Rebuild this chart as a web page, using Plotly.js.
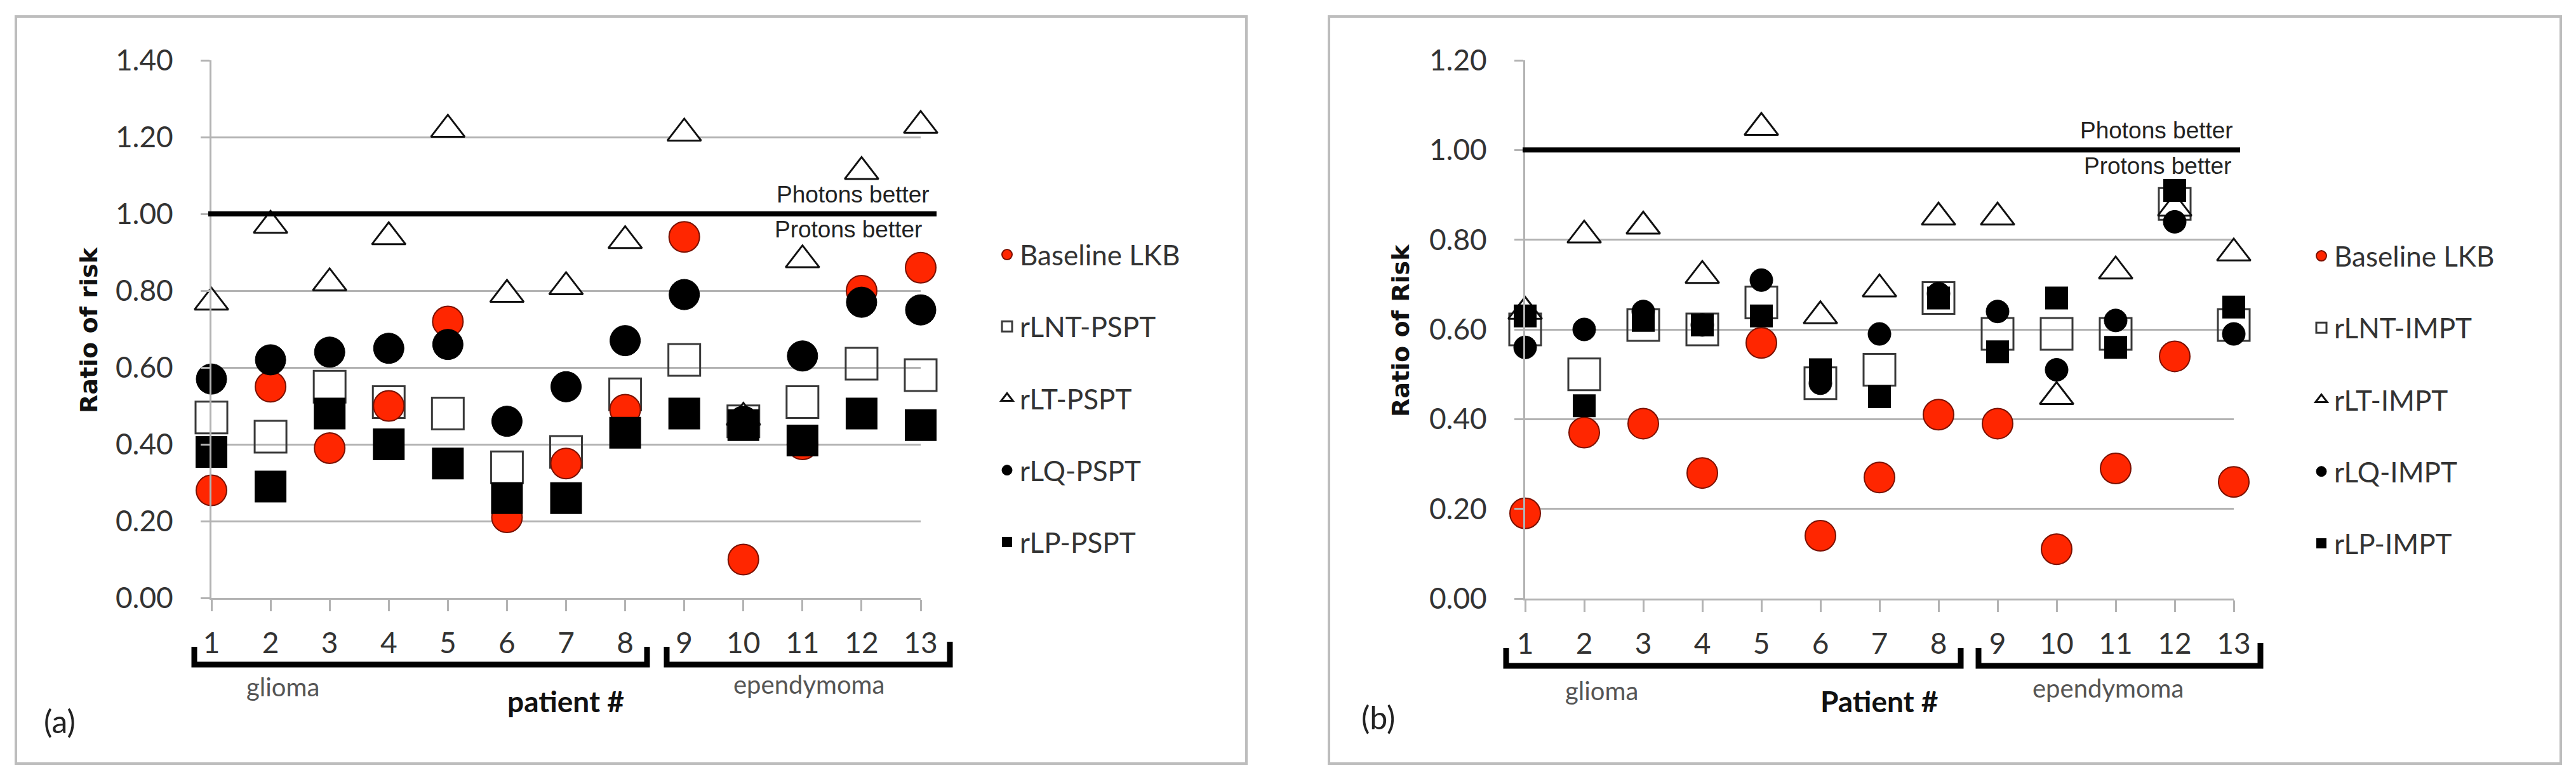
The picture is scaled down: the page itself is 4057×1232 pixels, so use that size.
<!DOCTYPE html>
<html><head><meta charset="utf-8">
<script src="https://cdn.plot.ly/plotly-3.0.1.min.js"></script>
<style>html,body{margin:0;padding:0;background:#fff;}#chart{width:4057px;height:1232px;}</style>
</head><body><div id="chart"></div>
<script>
// ---------------- data ----------------
const patients = [1,2,3,4,5,6,7,8,9,10,11,12,13];
const patientLabels = ['1','2','3','4','5','6','7','8','9','10','11','12','13'];

// panel (a) PSPT
const namesA = ['Baseline LKB','rLNT-PSPT','rLT-PSPT','rLQ-PSPT','rLP-PSPT'];
const baselineA = [0.28,0.55,0.39,0.50,0.72,0.21,0.35,0.49,0.94,0.10,0.40,0.80,0.86];
const rLNT_PSPT = [0.47,0.42,0.55,0.51,0.48,0.34,0.38,0.53,0.62,0.46,0.51,0.61,0.58];
const rLT_PSPT  = [0.77,0.97,0.82,0.94,1.22,0.79,0.81,0.93,1.21,0.47,0.88,1.11,1.23];
const rLQ_PSPT  = [0.57,0.62,0.64,0.65,0.66,0.46,0.55,0.67,0.79,0.46,0.63,0.77,0.75];
const rLP_PSPT  = [0.38,0.29,0.48,0.40,0.35,0.26,0.26,0.43,0.48,0.45,0.41,0.48,0.45];

// panel (b) IMPT
const namesB = ['Baseline LKB','rLNT-IMPT','rLT-IMPT','rLQ-IMPT','rLP-IMPT'];
const baselineB = [0.19,0.37,0.39,0.28,0.57,0.14,0.27,0.41,0.39,0.11,0.29,0.54,0.26];
const rLNT_IMPT = [0.60,0.50,0.61,0.60,0.66,0.48,0.51,0.67,0.59,0.59,0.59,0.88,0.61];
const rLT_IMPT  = [0.64,0.81,0.83,0.72,1.05,0.63,0.69,0.85,0.85,0.45,0.73,0.87,0.77];
const rLQ_IMPT  = [0.56,0.60,0.64,0.61,0.71,0.48,0.59,0.68,0.64,0.51,0.62,0.84,0.59];
const rLP_IMPT  = [0.63,0.43,0.62,0.61,0.63,0.51,0.45,0.67,0.55,0.67,0.56,0.91,0.65];

const refLine = 1.0;
const groupLabels = ['glioma','ependymoma'];
const xTitles = ['patient #','Patient #'];
const yTitles = ['Ratio of risk','Ratio of Risk'];
const betterLabels = ['Photons better','Protons better'];
const panelLabels = ['(a)','(b)'];

// ---------------- layout helpers ----------------
const W = 4057, H = 1232;
const px = v => v / W;
const py = v => 1 - v / H;

const RED = '#ff2600';
function styles(small){
  return [
    {symbol:'circle', size:48, color:RED, line:{color:'#7a1000', width:2}},
    {symbol:'square-open', size:50, color:'#3a3a3a', line:{color:'#3a3a3a', width:3}},
    {symbol:'triangle-up', size:46, color:'#ffffff', line:{color:'#111111', width:3}},
    {symbol:'circle', size: small ? 36 : 48, color:'#000000', line:{color:'#000000', width:1}},
    {symbol:'square', size: small ? 36 : 50, color:'#000000', line:{color:'#000000', width:0}}
  ];
}
// drawing order (bottom -> top): rLNT, Baseline, rLT, rLQ, rLP ; legend keeps series order
const drawOrder = [1,0,2,3,4];

function makeTraces(names, series, xa, ya, leg, small, pfx){
  const st = styles(small);
  return drawOrder.map(i => ({
    type:'scatter', mode:'markers', x: patients, y: series[i], name: names[i],
    xaxis: xa, yaxis: ya, marker: st[i], cliponaxis:false,
    legend: leg, legendgroup: pfx + i, legendrank: i + 1, hoverinfo:'skip'
  }));
}

const data = [
  ...makeTraces(namesA, [baselineA, rLNT_PSPT, rLT_PSPT, rLQ_PSPT, rLP_PSPT], 'x', 'y', 'legend', false, 'a'),
  ...makeTraces(namesB, [baselineB, rLNT_IMPT, rLT_IMPT, rLQ_IMPT, rLP_IMPT], 'x2', 'y2', 'legend2', true, 'b')
];

const GRID = '#b3b3b3';
const tickFont = {family:'Lato', size:46, color:'#333333'};
function xax(dom, anchor){
  return {domain: dom, range:[1,13], tickvals: patients, ticktext: patientLabels, anchor: anchor,
    showgrid:false, zeroline:false, showline:true, linecolor:GRID, linewidth:3,
    ticks:'outside', ticklen:18, tickwidth:3, tickcolor:GRID, tickfont: tickFont,
    ticklabelstandoff: 11, fixedrange:true};
}
function yax(dom, max, anchor){
  return {domain: dom, range:[0,max], dtick:0.2, tickformat:'.2f', anchor: anchor,
    showgrid:true, gridcolor:GRID, gridwidth:3, zeroline:false,
    showline:true, linecolor:GRID, linewidth:3,
    ticks:'outside', ticklen:14, tickwidth:3, tickcolor:GRID, tickfont: tickFont,
    ticklabelstandoff: 34, fixedrange:true};
}

const legendCommon = {xanchor:'left', yanchor:'top', traceorder:'grouped', tracegroupgap:53,
  font:{family:'Lato', size:44, color:'#333333'}, bgcolor:'rgba(0,0,0,0)', itemsizing:'trace'};

function bracket(x0, x1, yb, yt0, yt1){
  return {type:'path', xref:'paper', yref:'paper',
    path:`M ${px(x0)},${py(yt0)} L ${px(x0)},${py(yb)} L ${px(x1)},${py(yb)} L ${px(x1)},${py(yt1)}`,
    line:{color:'#000', width:9}};
}

const shapes = [
  {type:'rect', xref:'paper', yref:'paper', x0:px(25), x1:px(1963), y0:py(1203), y1:py(26), line:{color:'#bdbdbd', width:4}},
  {type:'rect', xref:'paper', yref:'paper', x0:px(2093), x1:px(4033), y0:py(1203), y1:py(26), line:{color:'#bdbdbd', width:4}},
  {type:'line', xref:'paper', yref:'y', x0:px(328), x1:px(1475), y0:refLine, y1:refLine, line:{color:'#000', width:8}},
  {type:'line', xref:'paper', yref:'y2', x0:px(2398), x1:px(3528), y0:refLine, y1:refLine, line:{color:'#000', width:8}},
  bracket(306, 1019, 1047, 1019, 1019),
  bracket(1050, 1496, 1047, 1019, 1011),
  bracket(2372, 3088, 1049, 1021, 1021),
  bracket(3116, 3560, 1049, 1021, 1013)
];

function ann(x, y, text, font, extra){
  return Object.assign({xref:'paper', yref:'paper', x:px(x), y:py(y), text, font,
    showarrow:false, xanchor:'center', yanchor:'middle'}, extra || {});
}
const betterFont = {family:'Liberation Sans', size:37, color:'#222'};
const groupFont = {family:'Lato', size:40, color:'#555'};
const yTitleFont = {family:'DejaVu Sans', size:38, weight:'bold', color:'#111'};
const xTitleFont = {family:'Lato', size:46, weight:'bold', color:'#111'};
const panelFont = {family:'Lato', size:50, color:'#222'};
const annotations = [
  ann(140, 520, yTitles[0], yTitleFont, {textangle:-90}),
  ann(2206, 521, yTitles[1], yTitleFont, {textangle:-90}),
  ann(891, 1104, xTitles[0], xTitleFont),
  ann(2960, 1104, xTitles[1], xTitleFont),
  ann(1466, 306, betterLabels[0], betterFont, {xanchor:'right'}),
  ann(1454, 361, betterLabels[1], betterFont, {xanchor:'right'}),
  ann(3519, 206, betterLabels[0], betterFont, {xanchor:'right'}),
  ann(3516, 261, betterLabels[1], betterFont, {xanchor:'right'}),
  ann(445, 1082, groupLabels[0], groupFont),
  ann(1274, 1078, groupLabels[1], groupFont),
  ann(2522, 1088, groupLabels[0], groupFont),
  ann(3320, 1084, groupLabels[1], groupFont),
  ann(94, 1136, panelLabels[0], panelFont),
  ann(2170, 1130, panelLabels[1], panelFont)
];

const layout = {
  width: W, height: H, margin:{l:0, r:0, t:0, b:0},
  paper_bgcolor:'#ffffff', plot_bgcolor:'rgba(0,0,0,0)',
  font:{family:'Lato', color:'#333'},
  showlegend:true,
  xaxis: xax([px(333), px(1450)], 'y'),
  yaxis: yax([py(942), py(95)], 1.4, 'x'),
  xaxis2: xax([px(2402), px(3518)], 'y2'),
  yaxis2: yax([py(943), py(95)], 1.2, 'x2'),
  legend: Object.assign({x: px(1566), y: py(366)}, legendCommon),
  legend2: Object.assign({x: px(3636), y: py(368)}, legendCommon),
  shapes, annotations
};

Plotly.newPlot('chart', data, layout, {staticPlot:true, displayModeBar:false});
</script>
</body></html>
